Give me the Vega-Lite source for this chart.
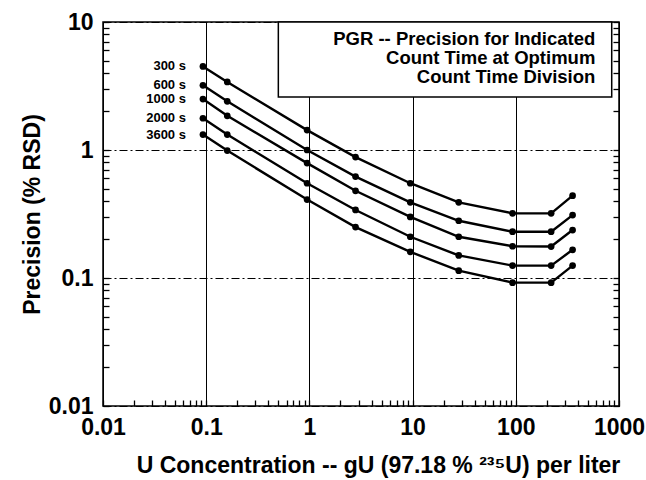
{
  "$schema": "https://vega.github.io/schema/vega-lite/v6.json",
  "width": 516,
  "height": 384,
  "autosize": "none",
  "padding": {"left": 103, "top": 22, "right": 27, "bottom": 74},
  "background": "white",
  "config": {
    "font": "Liberation Sans",
    "view": {"stroke": "black", "strokeWidth": 1.5},
    "axis": {"labelFont": "Liberation Sans", "titleFont": "Liberation Sans", "labelFontWeight": "bold", "titleFontWeight": "bold", "labelColor": "black", "titleColor": "black", "domain": false}
  },
  "resolve": {"axis": {"y": "independent"}},
  "datasets": {
    "curves": [
      {"series": "300 s", "x": 0.093, "y": 4.5}, {"series": "300 s", "x": 0.16, "y": 3.4}, {"series": "300 s", "x": 0.95, "y": 1.43}, {"series": "300 s", "x": 2.8, "y": 0.88}, {"series": "300 s", "x": 9.5, "y": 0.55}, {"series": "300 s", "x": 28, "y": 0.39}, {"series": "300 s", "x": 93, "y": 0.32}, {"series": "300 s", "x": 220, "y": 0.32}, {"series": "300 s", "x": 355, "y": 0.44},
      {"series": "600 s", "x": 0.093, "y": 3.2}, {"series": "600 s", "x": 0.16, "y": 2.4}, {"series": "600 s", "x": 0.95, "y": 1.0}, {"series": "600 s", "x": 2.8, "y": 0.62}, {"series": "600 s", "x": 9.5, "y": 0.39}, {"series": "600 s", "x": 28, "y": 0.28}, {"series": "600 s", "x": 93, "y": 0.23}, {"series": "600 s", "x": 220, "y": 0.23}, {"series": "600 s", "x": 355, "y": 0.31},
      {"series": "1000 s", "x": 0.093, "y": 2.5}, {"series": "1000 s", "x": 0.16, "y": 1.85}, {"series": "1000 s", "x": 0.95, "y": 0.79}, {"series": "1000 s", "x": 2.8, "y": 0.48}, {"series": "1000 s", "x": 9.5, "y": 0.3}, {"series": "1000 s", "x": 28, "y": 0.21}, {"series": "1000 s", "x": 93, "y": 0.177}, {"series": "1000 s", "x": 220, "y": 0.176}, {"series": "1000 s", "x": 355, "y": 0.237},
      {"series": "2000 s", "x": 0.093, "y": 1.77}, {"series": "2000 s", "x": 0.16, "y": 1.32}, {"series": "2000 s", "x": 0.95, "y": 0.55}, {"series": "2000 s", "x": 2.8, "y": 0.34}, {"series": "2000 s", "x": 9.5, "y": 0.21}, {"series": "2000 s", "x": 28, "y": 0.15}, {"series": "2000 s", "x": 93, "y": 0.125}, {"series": "2000 s", "x": 220, "y": 0.125}, {"series": "2000 s", "x": 355, "y": 0.166},
      {"series": "3600 s", "x": 0.093, "y": 1.32}, {"series": "3600 s", "x": 0.16, "y": 0.99}, {"series": "3600 s", "x": 0.95, "y": 0.41}, {"series": "3600 s", "x": 2.8, "y": 0.25}, {"series": "3600 s", "x": 9.5, "y": 0.16}, {"series": "3600 s", "x": 28, "y": 0.114}, {"series": "3600 s", "x": 93, "y": 0.092}, {"series": "3600 s", "x": 220, "y": 0.092}, {"series": "3600 s", "x": 355, "y": 0.125}
    ],
    "box": [{"x": 0.5, "x2": 850, "y": 2.6, "y2": 10}],
    "boxtext": [
      {"x": 590, "y": 7.36, "text": "PGR -- Precision for Indicated"},
      {"x": 590, "y": 5.23, "text": "Count Time at Optimum"},
      {"x": 590, "y": 3.71, "text": "Count Time Division"}
    ]
  },
  "layer": [
    {
      "data": {"name": "box"},
      "mark": {"type": "rect", "fill": "white", "stroke": "black", "strokeWidth": 1.5},
      "encoding": {
        "x": {"field": "x", "type": "quantitative", "scale": {"type": "log", "domain": [0.01, 1000], "nice": false},
          "axis": {
            "values": [0.01,0.02,0.03,0.04,0.05,0.06,0.07,0.08,0.09,0.1,0.2,0.3,0.4,0.5,0.6,0.7,0.8,0.9,1,2,3,4,5,6,7,8,9,10,20,30,40,50,60,70,80,90,100,200,300,400,500,600,700,800,900,1000],
            "format": "~g",
            "labelExpr": "abs(log(datum.value)/LN10 - round(log(datum.value)/LN10)) < 1e-6 ? format(datum.value, '~g') : ''",
            "labelFontSize": 23, "labelPadding": 10, "labelOverlap": false, "labelFlush": false,
            "title": "U Concentration -- gU (97.18 % ²³⁵U) per liter", "titleFontSize": 23, "titlePadding": 15,
            "titleX": 275, "titleAnchor": null,
            "offset": -6,
            "grid": true, "gridColor": "black", "gridWidth": 1,
            "gridOpacity": {"condition": {"test": "abs(log(datum.value)/LN10 - round(log(datum.value)/LN10)) < 1e-6", "value": 1}, "value": 0},
            "ticks": true, "tickColor": "black", "tickSize": 6, "tickWidth": 1.3
          }},
        "x2": {"field": "x2"},
        "y": {"field": "y", "type": "quantitative", "scale": {"type": "log", "domain": [0.01, 10], "nice": false},
          "axis": {
            "values": [0.01,0.02,0.03,0.04,0.05,0.06,0.07,0.08,0.09,0.1,0.2,0.3,0.4,0.5,0.6,0.7,0.8,0.9,1,2,3,4,5,6,7,8,9,10],
            "format": "~g",
            "labelExpr": "abs(log(datum.value)/LN10 - round(log(datum.value)/LN10)) < 1e-6 ? format(datum.value, '~g') : ''",
            "labelFontSize": 23, "labelPadding": 10, "labelOverlap": false, "labelFlush": false,
            "title": "Precision (% RSD)", "titleFontSize": 23, "titlePadding": 4,
            "offset": -6,
            "grid": true, "gridColor": "black", "gridWidth": 1, "gridDash": [8, 3, 2, 3],
            "gridOpacity": {"condition": {"test": "abs(log(datum.value)/LN10 - round(log(datum.value)/LN10)) < 1e-6", "value": 1}, "value": 0},
            "ticks": true, "tickColor": "black", "tickSize": 6, "tickWidth": 1.3
          }},
        "y2": {"field": "y2"}
      }
    },
    {
      "data": {"name": "boxtext"},
      "mark": {"type": "text", "align": "right", "baseline": "middle", "fontSize": 18.5, "fontWeight": "bold", "font": "Liberation Sans", "color": "black"},
      "encoding": {
        "x": {"field": "x", "type": "quantitative", "scale": {"type": "log", "domain": [0.01, 1000], "nice": false}},
        "y": {"field": "y", "type": "quantitative", "scale": {"type": "log", "domain": [0.01, 10], "nice": false}, "axis": null},
        "text": {"field": "text"}
      }
    },
    {
      "data": {"name": "curves"},
      "mark": {"type": "line", "color": "black", "strokeWidth": 2.4},
      "encoding": {
        "x": {"field": "x", "type": "quantitative", "scale": {"type": "log", "domain": [0.01, 1000], "nice": false}},
        "y": {"field": "y", "type": "quantitative", "scale": {"type": "log", "domain": [0.01, 10], "nice": false}, "axis": null},
        "detail": {"field": "series"}
      }
    },
    {
      "data": {"name": "curves"},
      "mark": {"type": "point", "filled": true, "color": "black", "size": 45, "opacity": 1},
      "encoding": {
        "x": {"field": "x", "type": "quantitative", "scale": {"type": "log", "domain": [0.01, 1000], "nice": false}},
        "y": {"field": "y", "type": "quantitative", "scale": {"type": "log", "domain": [0.01, 10], "nice": false}, "axis": null}
      }
    },
    {
      "data": {"name": "curves"},
      "transform": [{"filter": "datum.x < 0.1"}],
      "mark": {"type": "text", "align": "right", "baseline": "middle", "dx": -17, "fontSize": 13, "fontWeight": "bold", "font": "Liberation Sans", "color": "black"},
      "encoding": {
        "x": {"field": "x", "type": "quantitative", "scale": {"type": "log", "domain": [0.01, 1000], "nice": false}},
        "y": {"field": "y", "type": "quantitative", "scale": {"type": "log", "domain": [0.01, 10], "nice": false}, "axis": null},
        "text": {"field": "series"}
      }
    },
    {
      "data": {"name": "box"},
      "mark": {"type": "point", "opacity": 0},
      "encoding": {
        "x": {"field": "x", "type": "quantitative", "scale": {"type": "log", "domain": [0.01, 1000], "nice": false}},
        "y": {"field": "y", "type": "quantitative", "scale": {"type": "log", "domain": [0.01, 10], "nice": false},
          "axis": {
            "orient": "right",
            "values": [0.01,0.02,0.03,0.04,0.05,0.06,0.07,0.08,0.09,0.1,0.2,0.3,0.4,0.5,0.6,0.7,0.8,0.9,1,2,3,4,5,6,7,8,9,10],
            "labels": false, "title": null, "grid": false, "offset": -6,
            "ticks": true, "tickColor": "black", "tickSize": 6, "tickWidth": 1.3
          }}
      }
    }
  ]
}
